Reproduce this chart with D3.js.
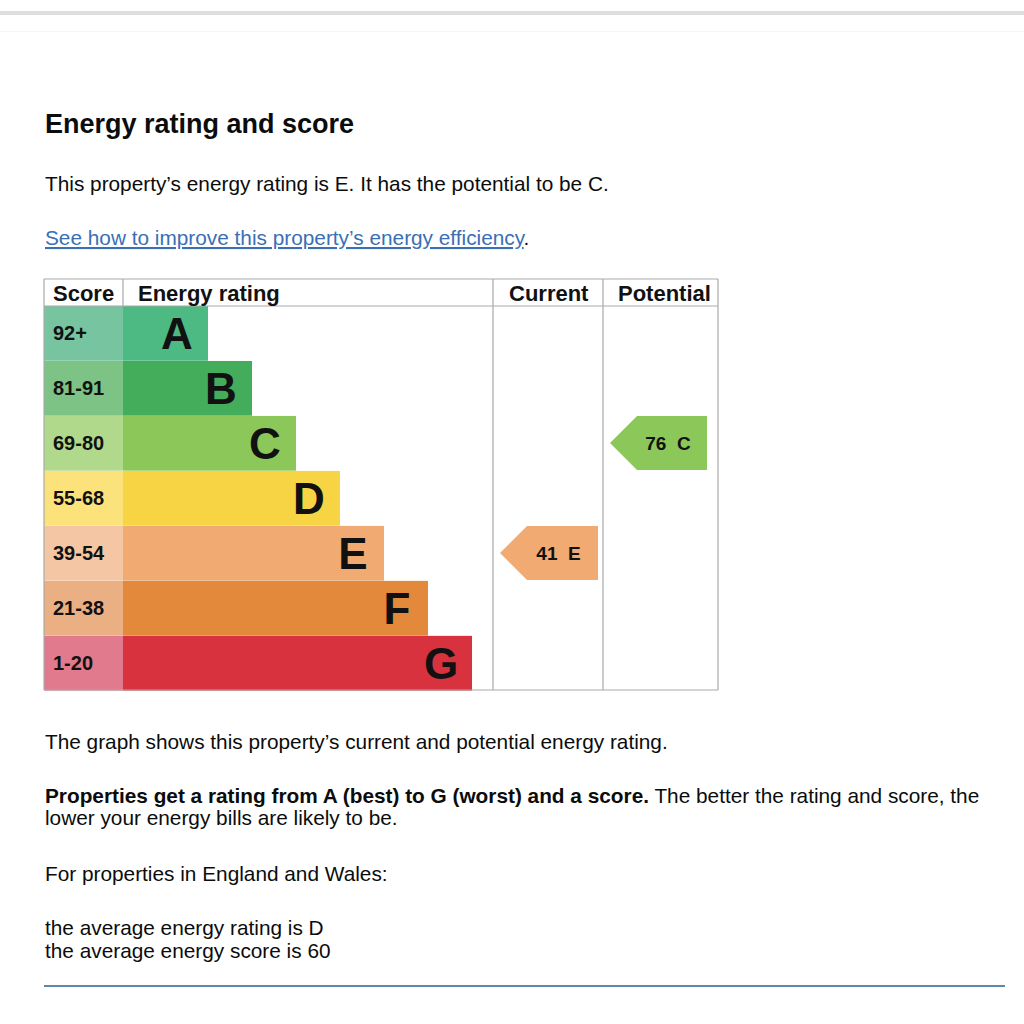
<!DOCTYPE html>
<html><head><meta charset="utf-8">
<script src="https://cdn.jsdelivr.net/npm/d3@7"></script>
<style>
html,body{margin:0;padding:0;background:#fff;}
svg{display:block;font-family:"Liberation Sans",Arial,Helvetica,sans-serif;}
</style></head>
<body>
<svg id="c" width="1024" height="1024"></svg>
<script>
const ratings = ["A","B","C","D","E","F","G"];
const scoreRanges = ["92+","81-91","69-80","55-68","39-54","21-38","1-20"];
const barColors = ["#4dba83","#44ad5c","#8cc859","#f6d444","#f0aa72","#e2893b","#d8323f"];
const scoreColors = ["#77c5a0","#7dc385","#b0d98b","#fbe27b","#f5c6a3","#eab083","#e27a8e"];
const current = {score:41, rating:"E", color:"#f0aa72"};
const potential = {score:76, rating:"C", color:"#8cc859"};

const svg = d3.select("#c");
const BODY = 20.8;

// top chrome bar
svg.append("rect").attr("x",0).attr("y",11).attr("width",1024).attr("height",4).attr("fill","#dedede");
svg.append("rect").attr("x",0).attr("y",31).attr("width",1024).attr("height",1).attr("fill","#f6f6f6");

// texts
svg.append("text").attr("x",45).attr("y",133).attr("font-size",27).attr("font-weight","bold").attr("fill","#0b0c0c").text("Energy rating and score");
svg.append("text").attr("x",45).attr("y",191).attr("font-size",BODY).attr("fill","#0b0c0c").text("This property\u2019s energy rating is E. It has the potential to be C.");
const link = svg.append("text").attr("x",45).attr("y",245).attr("font-size",BODY);
link.append("tspan").attr("fill","#3a6fb5").attr("text-decoration","underline").text("See how to improve this property\u2019s energy efficiency");
link.append("tspan").attr("fill","#0b0c0c").text(".");

// table geometry
const tX0 = 44, tX1 = 718, tY0 = 279, headerH = 27, tY1 = 690;
const colScore = 123, colCur = 493, colPot = 603;

const y = d3.scaleBand().domain(ratings).range([tY0+headerH, tY1]).paddingInner(0.015);
const x = d3.scaleLinear().domain([0,6]).range([colScore+85, colScore+349]);

const g = svg.append("g");

// score cells
g.selectAll("rect.score").data(ratings).join("rect")
  .attr("x",tX0).attr("y",d=>y(d)).attr("width",colScore-tX0).attr("height",y.bandwidth()+0.6)
  .attr("fill",(d,i)=>scoreColors[i]);
g.selectAll("text.score").data(ratings).join("text")
  .attr("x",53).attr("y",d=>y(d)+y.bandwidth()/2+7)
  .attr("font-size",20).attr("font-weight","bold").attr("fill","#111")
  .text((d,i)=>scoreRanges[i]);

// bars
g.selectAll("rect.bar").data(ratings).join("rect")
  .attr("x",colScore).attr("y",d=>y(d)).attr("width",(d,i)=>x(i)-colScore).attr("height",y.bandwidth()+0.6)
  .attr("fill",(d,i)=>barColors[i]);
g.selectAll("text.letter").data(ratings).join("text")
  .attr("x",(d,i)=>x(i)-31).attr("y",d=>y(d)+y.bandwidth()/2+16)
  .attr("text-anchor","middle").attr("font-size",44).attr("font-weight","bold").attr("fill","#111")
  .text(d=>d);

// grid lines
const line = (x1,y1,x2,y2)=>svg.append("line").attr("x1",x1).attr("y1",y1).attr("x2",x2).attr("y2",y2).attr("stroke","#a9a9a9").attr("stroke-width",1.2);
line(tX0,tY0,tX1,tY0);
line(tX0,tY0+headerH,tX1,tY0+headerH);
line(tX0,tY1,tX1,tY1);
line(tX0,tY0,tX0,tY1);
line(tX1,tY0,tX1,tY1);
line(colScore,tY0,colScore,tY0+headerH);
line(colCur,tY0,colCur,tY1);
line(colPot,tY0,colPot,tY1);

// header labels
const hdr = [["Score",53],["Energy rating",138],["Current",509],["Potential",618]];
svg.selectAll("text.hdr").data(hdr).join("text")
  .attr("x",d=>d[1]).attr("y",tY0+22).attr("font-size",22).attr("font-weight","bold").attr("fill","#111")
  .text(d=>d[0]);

// arrows
function arrow(item, left, right){
  const top = y(item.rating), h = y.bandwidth();
  const tip = 27;
  const pts = [[left,top+h/2],[left+tip,top],[right,top],[right,top+h],[left+tip,top+h]];
  svg.append("path").attr("d",d3.line()(pts)+"Z").attr("fill",item.color);
  svg.append("text").attr("x",(left+tip+right)/2-4).attr("y",top+h/2+7)
    .attr("text-anchor","middle").attr("font-size",19).attr("font-weight","bold").attr("fill","#111")
    .attr("xml:space","preserve").text(item.score+"  "+item.rating);
}
arrow(current, 500, 598);
arrow(potential, 610, 707);

// bottom text
const t = (yy, txt)=>svg.append("text").attr("x",45).attr("y",yy).attr("font-size",BODY).attr("fill","#0b0c0c").text(txt);
t(749,"The graph shows this property\u2019s current and potential energy rating.");
const p = svg.append("text").attr("x",45).attr("y",803).attr("font-size",BODY).attr("fill","#0b0c0c");
p.append("tspan").attr("font-weight","bold").text("Properties get a rating from A (best) to G (worst) and a score.");
p.append("tspan").text(" The better the rating and score, the");
t(825,"lower your energy bills are likely to be.");
t(881,"For properties in England and Wales:");
t(935,"the average energy rating is D");
t(958,"the average energy score is 60");
svg.append("rect").attr("x",44).attr("y",985).attr("width",961).attr("height",2).attr("fill","#5f88ad");
</script>
</body></html>
